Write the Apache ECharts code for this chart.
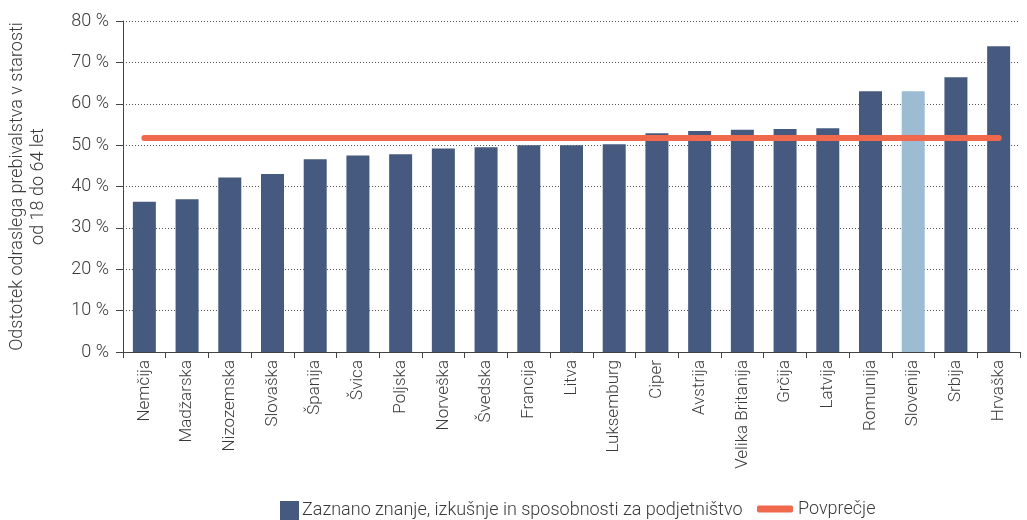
<!DOCTYPE html>
<html lang="sl">
<head>
<meta charset="UTF-8">
<title>Podjetniško znanje</title>
<script src="https://cdn.jsdelivr.net/npm/echarts@6/dist/echarts.min.js"></script>
<style>
  html, body { margin: 0; padding: 0; background: #fff; }
  #chart { width: 1027px; height: 520px; }
</style>
</head>
<body>
<div id="chart"></div>
<script>
  // podatki
  const countries = ['Nemčija', 'Madžarska', 'Nizozemska', 'Slovaška', 'Španija', 'Švica', 'Poljska',
    'Norveška', 'Švedska', 'Francija', 'Litva', 'Luksemburg', 'Ciper', 'Avstrija', 'Velika Britanija',
    'Grčija', 'Latvija', 'Romunija', 'Slovenija', 'Srbija', 'Hrvaška'];
  const knowledge = [36.3, 36.9, 42.2, 43.0, 46.6, 47.5, 47.8, 49.2, 49.5, 50.0, 50.0, 50.2,
    52.9, 53.4, 53.7, 53.9, 54.1, 63.0, 63.0, 66.4, 73.9];
  const average = 51.7;
  const highlight = 'Slovenija';

  const barName = 'Zaznano znanje, izkušnje in sposobnosti za podjetništvo';
  const avgName = 'Povprečje';
  const font = 'Roboto';
  const txt = '#3a3a3a';

  const chart = echarts.init(document.getElementById('chart'));

  chart.setOption({
    animation: false,
    textStyle: { fontFamily: font, color: txt },
    grid: { left: 123, right: 7, top: 21, bottom: 168, outerBoundsMode: 'none', containLabel: false },
    legend: [
      {
        data: [{ name: barName, icon: 'rect' }],
        left: 275, top: 496,
        itemWidth: 19, itemHeight: 19, itemGap: 4,
        textStyle: { fontFamily: font, fontWeight: 300, fontSize: 18, color: txt, padding: [0, 0, 0, -2] }
      },
      {
        data: [{ name: avgName, icon: 'roundRect' }],
        left: 752, top: 495,
        itemWidth: 36, itemHeight: 7,
        textStyle: { fontFamily: font, fontWeight: 300, fontSize: 18, color: txt, padding: [0, 0, 0, 0] }
      }
    ],
    xAxis: {
      type: 'category',
      data: countries,
      axisLine: { lineStyle: { color: '#444', width: 1 } },
      axisTick: { show: true, length: 6, lineStyle: { color: '#444' } },
      axisLabel: {
        rotate: 90, interval: 0, margin: 8,
        fontFamily: font, fontWeight: 300, fontSize: 17, color: txt
      }
    },
    yAxis: {
      type: 'value',
      min: 0, max: 80, interval: 10,
      name: 'Odstotek odraslega prebivalstva v starosti\nod 18 do 64 let',
      nameLocation: 'middle',
      nameGap: 74,
      nameTextStyle: { fontFamily: font, fontWeight: 300, fontSize: 18, color: txt, lineHeight: 21 },
      axisLine: { show: true, lineStyle: { color: '#444' } },
      axisTick: { show: true, inside: false, length: 7, lineStyle: { color: '#444' } },
      axisLabel: {
        formatter: '{value} %', margin: 14,
        fontFamily: font, fontWeight: 300, fontSize: 18, color: txt
      },
      splitLine: { show: true, lineStyle: { color: '#555', type: [1, 2], width: 1 } }
    },
    series: [
      {
        name: barName,
        type: 'bar',
        barWidth: 23,
        itemStyle: { color: '#465a7f' },
        data: knowledge.map((v, i) => countries[i] === highlight
          ? { value: v, itemStyle: { color: '#9bbcd2' } }
          : v)
      },
      {
        name: avgName,
        type: 'line',
        data: countries.map(() => average),
        symbol: 'none',
        itemStyle: { color: '#f0694c' },
        lineStyle: { color: '#f0694c', width: 6, cap: 'round' },
        z: 5
      }
    ]
  });
</script>
</body>
</html>
